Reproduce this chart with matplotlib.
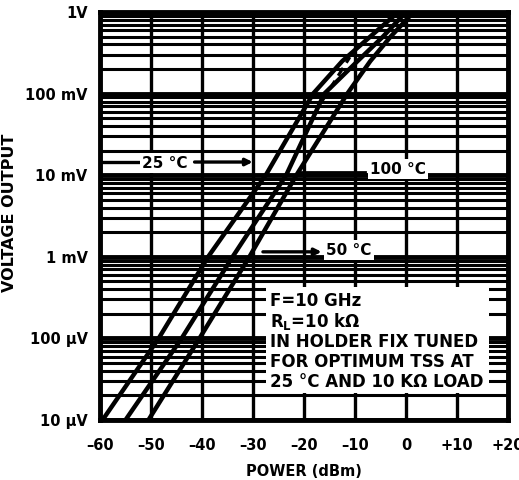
import numpy as np
import matplotlib
matplotlib.use("Agg")
import matplotlib.pyplot as plt

# ---- data ----
power_25 = [-59.5, -48.5, -38.8, -27.5, -18.2, -12.5, -7.0, -1.5]
volt_25 = [1e-5, 1e-4, 1e-3, 1e-2, 1e-1, 0.25, 0.5, 1.0]
power_50 = [-55.0, -44.0, -34.0, -23.5, -16.0, -9.5, -4.5, 0.0]
volt_50 = [1e-5, 1e-4, 1e-3, 1e-2, 1e-1, 0.25, 0.5, 1.0]
power_100 = [-50.5, -40.5, -30.7, -21.5, -11.5, -7.0, -3.0, 1.5]
volt_100 = [1e-5, 1e-4, 1e-3, 1e-2, 1e-1, 0.25, 0.5, 1.0]
ideal_power = [-16.5, -11.0]
ideal_volt = [0.08, 0.28]

x_ticks = [-60, -50, -40, -30, -20, -10, 0, 10, 20]
x_tick_labels = ["\u201360", "\u201350", "\u201340", "\u201330", "\u201320", "\u201310", "0", "+10", "+20"]
y_ticks = [1e-5, 1e-4, 1e-3, 1e-2, 1e-1, 1.0]
y_tick_labels = ["10 \u00b5V", "100 \u00b5V", "1 mV", "10 mV", "100 mV", "1V"]

note_lines = ["F=10 GHz", "R$_{\\mathbf{L}}$=10 k\u03a9", "IN HOLDER FIX TUNED",
              "FOR OPTIMUM TSS AT", "25 \u00b0C AND 10 K\u03a9 LOAD"]

plt.rcParams['font.family'] = ['DejaVu Sans']
plt.rcParams['font.weight'] = 'bold'
plt.rcParams['mathtext.default'] = 'bf'

fig = plt.figure(figsize=(5.19, 4.80), dpi=100)
ax = fig.add_axes([100/519, 1-420/480, 408/519, 408/480])
ax.set_xscale('linear')
ax.set_yscale('log')
ax.set_xlim(-60, 20)
ax.set_ylim(1e-5, 1.0)

# grid
minor = []
for d in [1e-5, 1e-4, 1e-3, 1e-2, 1e-1]:
    for k in range(2, 10):
        minor.append(d * k)
for v in minor:
    ax.axhline(v, color='black', lw=2.2, zorder=1)
for v in y_ticks:
    ax.axhline(v, color='black', lw=3.5, zorder=1)
for x in x_ticks:
    ax.axvline(x, color='black', lw=2.4, zorder=1)

# curves
for p, v in [(power_25, volt_25), (power_50, volt_50), (power_100, volt_100)]:
    ax.plot(p, v, color='black', lw=3.2, solid_capstyle='butt', zorder=3)
ax.plot(ideal_power, ideal_volt, color='black', lw=2.2, ls=(0, (3, 2)), zorder=3)

for s in ax.spines.values():
    s.set_linewidth(3.5)
    s.set_zorder(6)

ax.set_xticks(x_ticks)
ax.set_xticklabels(x_tick_labels)
ax.set_yticks(y_ticks)
ax.set_yticklabels(y_tick_labels)
ax.yaxis.set_minor_locator(matplotlib.ticker.NullLocator())
ax.tick_params(axis='both', length=0, labelsize=10.5)
ax.tick_params(axis='x', pad=13)
ax.tick_params(axis='y', pad=9)
ax.set_xlabel("POWER (dBm)", fontsize=10.5, fontweight='bold', labelpad=8)
ax.set_ylabel("VOLTAGE OUTPUT", fontsize=11.5, fontweight='bold')
ax.yaxis.set_label_coords(-83/408, (420-213)/408)

# labels
tkw = dict(fontsize=11, fontweight='bold', ha='center', va='center', zorder=5,
           bbox=dict(facecolor='white', edgecolor='none', pad=1.5))
ax.plot([-60, -52.5], [0.0145, 0.0145], color='black', lw=2.4, zorder=4)
ax.annotate("", xy=(-29.5, 0.0145), xytext=(-42.0, 0.0145),
            arrowprops=dict(arrowstyle='-|>', color='black', lw=2.4, mutation_scale=10), zorder=4)
ax.text(-47.3, 0.0141, "25 \u00b0C", **tkw)
ax.plot([-20.8, -8.0], [0.011, 0.011], color='black', lw=2.0, zorder=4)
ax.text(-1.6, 0.0119, "100 \u00b0C", **tkw)
ax.annotate("", xy=(-16.0, 0.00115), xytext=(-28.6, 0.00115),
            arrowprops=dict(arrowstyle='-|>', color='black', lw=2.4, mutation_scale=10), zorder=4)
ax.text(-11.2, 0.00121, "50 \u00b0C", **tkw)

# note box
ax.add_patch(plt.Rectangle((166/408, (420-393)/408), (489-266)/408, (393-287)/408,
                           transform=ax.transAxes, facecolor='white', edgecolor='none', zorder=4))
ys = [301, 321, 342, 362, 382]
for t, yy in zip(note_lines, ys):
    ax.text(170/408, (420-yy)/408, t, transform=ax.transAxes, fontsize=12,
            fontweight='bold', ha='left', va='center', zorder=5)

fig.savefig("out.png", dpi=100)
